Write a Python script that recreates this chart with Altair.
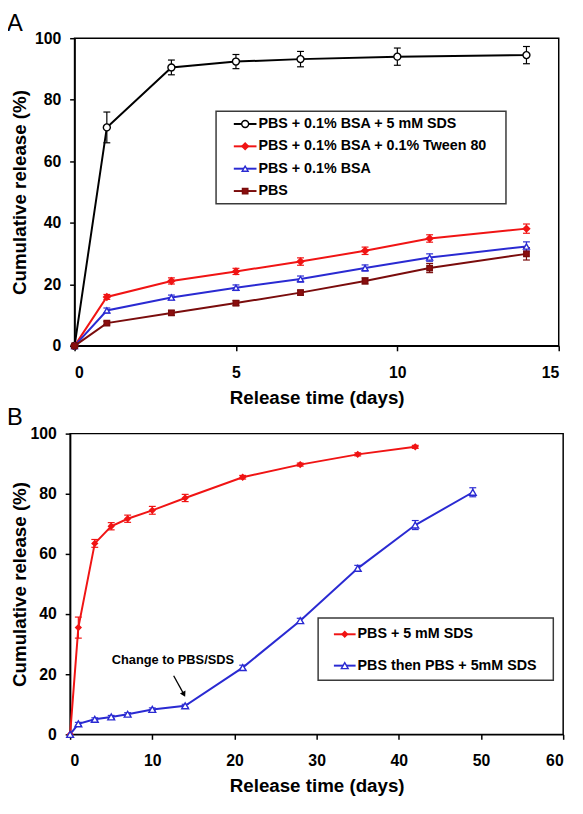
import altair as alt
import pandas as pd

FONT = "Liberation Sans"

# ---------------- Panel A data ----------------
a_names = ["PBS + 0.1% BSA + 5 mM SDS", "PBS + 0.1% BSA + 0.1% Tween 80", "PBS + 0.1% BSA", "PBS"]
a_days_sds = [0, 1, 3, 5, 7, 10, 14]
a_days = [0, 1, 3, 5, 7, 9, 11, 14]
a_sds = [0, 71.0, 90.5, 92.4, 93.2, 94.0, 94.5]
a_sds_err = [0, 5.0, 2.4, 2.3, 2.5, 2.8, 2.8]
a_tween = [0, 15.9, 21.1, 24.2, 27.4, 30.9, 34.9, 38.1]
a_tween_err = [0, 0.8, 1.0, 1.0, 1.2, 1.2, 1.2, 1.5]
a_bsa = [0, 11.5, 15.7, 18.9, 21.7, 25.3, 28.7, 32.3]
a_bsa_err = [0, 0.8, 0.8, 0.9, 1.0, 1.0, 1.2, 1.5]
a_pbs = [0, 7.4, 10.7, 13.9, 17.3, 21.1, 25.3, 29.9]
a_pbs_err = [0, 0.6, 0.8, 0.8, 0.8, 1.0, 1.5, 2.0]
a_xticks = [0, 5, 10, 15]

# ---------------- Panel B data ----------------
b_names = ["PBS + 5 mM SDS", "PBS then PBS + 5mM SDS"]
b_days_sds = [0, 1, 3, 5, 7, 10, 14, 21, 28, 35, 42]
b_sds = [0, 35.5, 63.5, 69.2, 71.7, 74.5, 78.6, 85.5, 89.7, 93.1, 95.6]
b_sds_err = [0, 3.5, 1.3, 1.2, 1.2, 1.3, 1.2, 0.6, 0.5, 0.5, 0.5]
b_days_switch = [0, 1, 3, 5, 7, 10, 14, 21, 28, 35, 42, 49]
b_switch = [0, 3.5, 5.0, 5.8, 6.7, 8.3, 9.5, 22.2, 37.8, 55.2, 69.6, 80.5]
b_switch_err = [0, 0.5, 0.5, 0.5, 0.5, 0.5, 0.5, 0.8, 0.8, 1.0, 1.5, 1.5]
b_xticks = [0, 10, 20, 30, 40, 50, 60]

annot_text = ["Change to PBS/SDS"]
annot_day = [12.5]
annot_value = [24.6]
arrow_day = [12.6, 13.85]
arrow_value = [19.5, 13.3]

panel_labels = ["A", "B"]
y_ticks = [0, 20, 40, 60, 80, 100]

# styles
RED = "#f01414"
BLUE = "#2a2ad2"
MAROON = "#7a0c0c"
a_strokes = ["#000000", RED, BLUE, MAROON]
a_fills = ["#ffffff", RED, "#ffffff", "#8b0e0e"]
a_shapes = ["circle", "diamond", "triangle-up", "square"]
a_sizes = [50, 30, 48, 42]
b_strokes = [RED, BLUE]
b_fills = [RED, "#ffffff"]
b_shapes = ["diamond", "triangle-up"]
b_sizes = [30, 48]

# legend layout (pixels relative to each plot area)
legA_box = (143.5, 437.5, 74, 168)
legA_sym = (161.5, 184.5)
legA_text = 186.5
legA_rows = [87, 155]
legB_box = (251.5, 490, 187, 250)
legB_sym = (267.5, 289.5)
legB_text = 291.5
legB_rows = [203.5, 235.3]


def frame(names, days_list, vals_list, errs_list):
    rows = []
    for n, d, v, e in zip(names, days_list, vals_list, errs_list):
        for di, vi, ei in zip(d, v, e):
            rows.append({"series": n, "day": di, "value": vi, "lo": vi - ei, "hi": vi + ei})
    return pd.DataFrame(rows)


def panel(df, names, strokes, fills, shapes, sizes, xdom, xticks,
          width, height, title_x, label, label_x, label_y,
          box, sym, text_x, rows, extra=None):
    xaxis = alt.Axis(values=xticks, title="Release time (days)", labelOverlap=False)
    yaxis = alt.Axis(values=y_ticks, title="Cumulative release (%)", titleX=title_x,
                     titleBaseline="middle", labelOverlap=False)
    xs = alt.Scale(domain=xdom, nice=False, zero=False)
    ys = alt.Scale(domain=[0, 100], nice=False)
    x = alt.X("day:Q", scale=xs, axis=xaxis)
    y = alt.Y("value:Q", scale=ys, axis=yaxis)
    stroke = alt.Stroke("series:N", scale=alt.Scale(domain=names, range=strokes), legend=None)
    fill = alt.Fill("series:N", scale=alt.Scale(domain=names, range=fills), legend=None)
    shape = alt.Shape("series:N", scale=alt.Scale(domain=names, range=shapes), legend=None)
    size = alt.Size("series:N", scale=alt.Scale(domain=names, range=sizes), legend=None)

    lines = alt.Chart(df).mark_line(strokeWidth=2).encode(x=x, y=y, stroke=stroke)
    err = df[df["hi"] > df["lo"]]
    rules = alt.Chart(err).mark_rule(strokeWidth=1.2).encode(
        x=x, y=alt.Y("lo:Q", scale=ys, axis=yaxis), y2="hi:Q", stroke=stroke)
    cap_lo = alt.Chart(err).mark_point(shape="stroke", size=49, strokeWidth=1.2, opacity=1).encode(
        x=x, y=alt.Y("lo:Q", scale=ys, axis=yaxis), stroke=stroke)
    cap_hi = alt.Chart(err).mark_point(shape="stroke", size=49, strokeWidth=1.2, opacity=1).encode(
        x=x, y=alt.Y("hi:Q", scale=ys, axis=yaxis), stroke=stroke)
    pts = alt.Chart(df).mark_point(filled=True, strokeWidth=1.4, opacity=1).encode(
        x=x, y=y, stroke=stroke, fill=fill, shape=shape, size=size)
    lab = alt.Chart(pd.DataFrame({"t": [label]})).mark_text(
        font=FONT, fontSize=24, align="center", baseline="top", color="black"
    ).encode(text="t:N", x=alt.value(label_x), y=alt.value(label_y))
    layers = [lines, rules, cap_lo, cap_hi, pts]
    if extra is not None:
        layers += extra(x, y)
    layers.append(lab)
    data_layer = alt.layer(*layers)

    # legend drawn from the series list through its own row scale
    ldf = pd.DataFrame({"series": names, "order": list(range(len(names)))})
    ly = alt.Y("order:Q", scale=alt.Scale(domain=[0, len(names) - 1], range=rows, nice=False, zero=False),
               axis=None)
    rect = alt.Chart(pd.DataFrame({"k": [0]})).mark_rect(
        fill="white", stroke="#3a3a3a", strokeWidth=1.5
    ).encode(x=alt.value(box[0]), x2=alt.value(box[1]), y=alt.value(box[2]), y2=alt.value(box[3]))
    seg = alt.Chart(ldf).mark_rule(strokeWidth=2).encode(
        x=alt.value(sym[0]), x2=alt.value(sym[1]), y=ly, stroke=stroke)
    mk = alt.Chart(ldf).mark_point(filled=True, strokeWidth=1.4, opacity=1).encode(
        x=alt.value((sym[0] + sym[1]) / 2), y=ly, stroke=stroke, fill=fill, shape=shape, size=size)
    txt = alt.Chart(ldf).mark_text(
        font=FONT, fontSize=14.5, fontWeight="bold", color="black", align="left", baseline="middle"
    ).encode(x=alt.value(text_x), y=ly, text="series:N")
    legend_layer = alt.layer(rect, seg, mk, txt)

    return alt.layer(data_layer, legend_layer).resolve_scale(y="independent").properties(
        width=width, height=height)


dfA = frame(a_names, [a_days_sds, a_days, a_days, a_days],
            [a_sds, a_tween, a_bsa, a_pbs], [a_sds_err, a_tween_err, a_bsa_err, a_pbs_err])
dfB = frame(b_names, [b_days_sds, b_days_switch], [b_sds, b_switch], [b_sds_err, b_switch_err])


def annotations(x, y):
    tdf = pd.DataFrame({"day": annot_day, "value": annot_value, "text": annot_text})
    adf = pd.DataFrame({"day": arrow_day, "value": arrow_value})
    hdf = pd.DataFrame({"day": arrow_day[-1:], "value": arrow_value[-1:]})
    txt = alt.Chart(tdf).mark_text(font=FONT, fontSize=13, fontWeight="bold", color="black",
                                   align="center", baseline="middle").encode(x=x, y=y, text="text:N")
    arr = alt.Chart(adf).mark_line(color="black", strokeWidth=1.3).encode(x=x, y=y)
    head = alt.Chart(hdf).mark_point(shape="triangle-down", angle=333, filled=True, size=40,
                                     color="black", opacity=1).encode(x=x, y=y)
    return [arr, head, txt]


chartA = panel(dfA, a_names, a_strokes, a_fills, a_shapes, a_sizes, [0, 15], a_xticks,
               491, 312, -56, panel_labels[0], -60.5, -26,
               legA_box, legA_sym, legA_text, legA_rows)
chartB = panel(dfB, b_names, b_strokes, b_fills, b_shapes, b_sizes, [0, 60], b_xticks,
               500, 305, -51.5, panel_labels[1], -56, -28,
               legB_box, legB_sym, legB_text, legB_rows, extra=annotations)

chart = alt.vconcat(chartA, chartB, spacing=89, bounds="flush", center=True).resolve_scale(
    stroke="independent", fill="independent", shape="independent", size="independent",
    x="independent", y="independent"
).properties(
    autosize=alt.AutoSizeParams(type="none"),
    padding={"left": 63, "top": 25, "right": 512, "bottom": 772}
).configure_view(stroke="black", strokeWidth=1.5).configure_axis(
    grid=False, labelFont=FONT, labelFontSize=16, labelFontWeight="bold", labelColor="black",
    titleFont=FONT, titleFontSize=19, titleFontWeight="bold", titleColor="black",
    domainColor="black", domainWidth=1.5, tickColor="black", tickWidth=1.5, tickSize=5,
).configure_axisX(labelPadding=14, titlePadding=8).configure_axisY(labelPadding=9)

chart.save("out.html", embed_options={"renderer": "svg", "actions": False})
